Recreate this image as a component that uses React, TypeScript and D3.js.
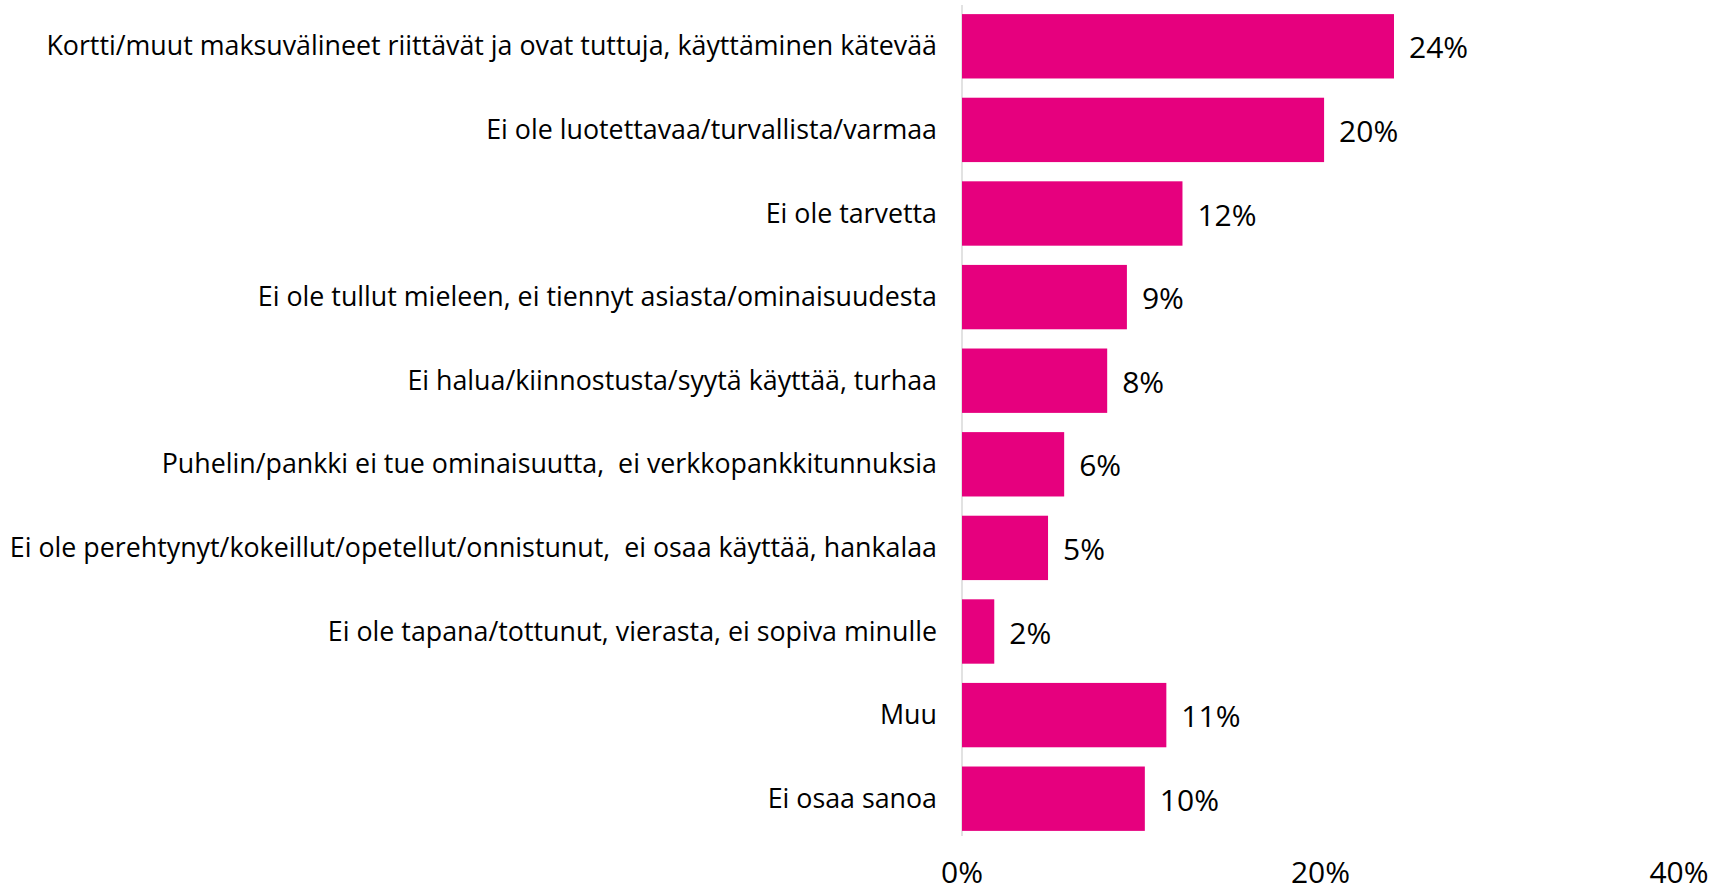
import React from "react";
import * as d3 from "d3";

const categories: string[] = [
  "Kortti/muut maksuvälineet riittävät ja ovat tuttuja, käyttäminen kätevää",
  "Ei ole luotettavaa/turvallista/varmaa",
  "Ei ole tarvetta",
  "Ei ole tullut mieleen, ei tiennyt asiasta/ominaisuudesta",
  "Ei halua/kiinnostusta/syytä käyttää, turhaa",
  "Puhelin/pankki ei tue ominaisuutta,  ei verkkopankkitunnuksia",
  "Ei ole perehtynyt/kokeillut/opetellut/onnistunut,  ei osaa käyttää, hankalaa",
  "Ei ole tapana/tottunut, vierasta, ei sopiva minulle",
  "Muu",
  "Ei osaa sanoa",
];
const values: number[] = [24.1, 20.2, 12.3, 9.2, 8.1, 5.7, 4.8, 1.8, 11.4, 10.2];
const valueLabels: string[] = ["24%", "20%", "12%", "9%", "8%", "6%", "5%", "2%", "11%", "10%"];
const tickValues: number[] = [0, 20, 40];

const W = 1714;
const H = 891;
const FONT = "'Open Sans', Lato, sans-serif";

export default function App() {
  const x = d3.scaleLinear().domain([0, 40]).range([962, 1679]);
  const y = d3
    .scaleBand<string>()
    .domain(categories)
    .range([4.5, 840.5])
    .paddingInner(0.23)
    .paddingOuter(0.115);

  return (
    <svg
      width={W}
      height={H}
      style={{ position: "absolute", left: 0, top: 0, background: "#fff" }}
    >
      <line x1={x(0)} x2={x(0)} y1={5} y2={836} stroke="#d9d9d9" strokeWidth={1.5} />
      {categories.map((c, i) => {
        const by = y(c)!;
        const bh = y.bandwidth();
        return (
          <g key={c}>
            <rect x={x(0)} y={by} width={x(values[i]) - x(0)} height={bh} fill="#E6007E" />
            <text
              x={x(0) - 25}
              y={by + bh / 2 + 9}
              textAnchor="end"
              fontFamily={FONT}
              fontSize={26.8}
              fill="#000"
              style={{ whiteSpace: "pre" }}
            >
              {c}
            </text>
            <text
              x={x(values[i]) + 15}
              y={by + bh / 2 + 12}
              textAnchor="start"
              fontFamily={FONT}
              fontSize={30}
              fill="#000"
            >
              {valueLabels[i]}
            </text>
          </g>
        );
      })}
      {tickValues.map((t) => (
        <text
          key={t}
          x={x(t)}
          y={883}
          textAnchor="middle"
          fontFamily={FONT}
          fontSize={30}
          fill="#000"
        >
          {t + "%"}
        </text>
      ))}
    </svg>
  );
}
